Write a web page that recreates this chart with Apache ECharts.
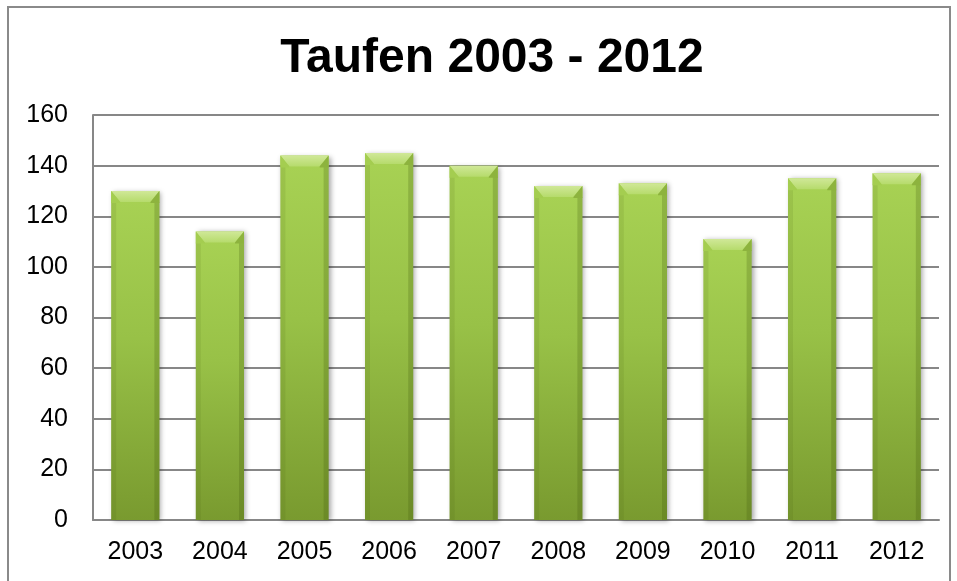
<!DOCTYPE html>
<html>
<head>
<meta charset="utf-8">
<style>
  html, body { margin: 0; padding: 0; background: #ffffff; }
  #chart { width: 957px; height: 581px; }
</style>
<script src="https://cdn.jsdelivr.net/npm/echarts@6/dist/echarts.min.js"></script>
</head>
<body>
<div id="chart"></div>
<script>
// Annual baptisms, 2003 – 2012
const years = ['2003', '2004', '2005', '2006', '2007', '2008', '2009', '2010', '2011', '2012'];
const baptisms = [130, 114, 144, 145, 140, 132, 133, 111, 135, 137];
const yTicks = { min: 0, max: 160, interval: 20 };

const chart = echarts.init(document.getElementById('chart'), null, { renderer: 'canvas' });

const FONT = '"Liberation Sans", Arial, sans-serif';
const AXIS_GRAY = '#878787';

// Bevelled green column: body gradient, darker side strips, light top bevel
function renderBevelBar(params, api) {
  const idx = api.value(0);
  const val = api.value(1);
  const top = api.coord([idx, val]);
  const base = api.coord([idx, 0]);
  const bandW = api.size([1, 0])[0];
  const w = bandW * 0.57;
  const x0 = top[0] - w / 2;
  const x1 = top[0] + w / 2;
  const yT = top[1];
  const yB = base[1];
  const h = yB - yT;
  const bev = Math.min(11, h / 2);
  const inset = 9;
  const side = 5;

  return {
    type: 'group',
    children: [
      {
        type: 'rect',
        shape: { x: x0, y: yT, width: w, height: h },
        style: {
          fill: new echarts.graphic.LinearGradient(0, 0, 0, 1, [
            { offset: 0, color: '#a8d254' },
            { offset: 0.45, color: '#98c147' },
            { offset: 1, color: '#799a2f' }
          ]),
          shadowColor: 'rgba(0,0,0,0.35)',
          shadowBlur: 5,
          shadowOffsetX: 2,
          shadowOffsetY: 1
        }
      },
      {
        type: 'rect',
        shape: { x: x0, y: yT + bev, width: side, height: h - bev },
        style: { fill: 'rgba(60,80,10,0.10)' }
      },
      {
        type: 'rect',
        shape: { x: x1 - side, y: yT + bev, width: side, height: h - bev },
        style: { fill: 'rgba(60,80,10,0.22)' }
      },
      {
        type: 'polygon',
        shape: { points: [[x0, yT], [x1, yT], [x1 - inset, yT + bev], [x0 + inset, yT + bev]] },
        style: {
          fill: new echarts.graphic.LinearGradient(0, 0, 0, 1, [
            { offset: 0, color: '#d0e898' },
            { offset: 1, color: '#b6db6c' }
          ])
        }
      },
      {
        type: 'polygon',
        shape: { points: [[x0, yT], [x0 + inset, yT + bev], [x0 + inset, yT + bev + 1], [x0, yT + bev + 1]] },
        style: { fill: '#a4cd50' }
      },
      {
        type: 'polygon',
        shape: { points: [[x1, yT], [x1 - inset, yT + bev], [x1 - inset, yT + bev + 1], [x1, yT + bev + 1]] },
        style: { fill: '#8db33e' }
      }
    ]
  };
}

const option = {
  backgroundColor: '#ffffff',
  animation: false,
  title: {
    text: 'Taufen 2003 - 2012',
    left: 487,
    top: 30,
    textAlign: 'center',
    textStyle: { fontFamily: FONT, fontWeight: 'bold', fontSize: 48, color: '#000000' }
  },
  graphic: [
    {
      type: 'rect',
      shape: { x: 8, y: 7, width: 942, height: 600 },
      style: { fill: 'none', stroke: '#8a8a8a', lineWidth: 2 },
      silent: true
    }
  ],
  grid: { left: 93, right: 18, top: 115, bottom: 61, containLabel: false },
  xAxis: {
    type: 'category',
    data: years,
    axisLine: { show: true, lineStyle: { color: AXIS_GRAY, width: 2 } },
    axisTick: { show: false },
    axisLabel: { fontFamily: FONT, fontSize: 25, color: '#000000', margin: 20 },
    splitLine: { show: false }
  },
  yAxis: {
    type: 'value',
    min: yTicks.min,
    max: yTicks.max,
    interval: yTicks.interval,
    axisLine: { show: true, lineStyle: { color: AXIS_GRAY, width: 2 } },
    axisTick: { show: false },
    axisLabel: { fontFamily: FONT, fontSize: 25, color: '#000000', margin: 25 },
    splitLine: { show: true, lineStyle: { color: AXIS_GRAY, width: 2 } }
  },
  series: [
    {
      type: 'custom',
      renderItem: renderBevelBar,
      encode: { x: 0, y: 1 },
      data: years.map((y, i) => [i, baptisms[i]]),
      z: 3
    }
  ]
};

chart.setOption(option);
</script>
</body>
</html>
